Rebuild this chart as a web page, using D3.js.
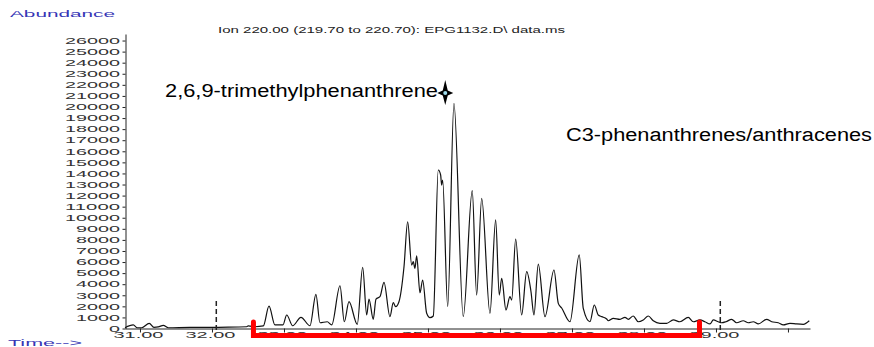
<!DOCTYPE html>
<html lang="en">
<head>
<meta charset="UTF-8">
<title>Ion 220.00 chromatogram</title>
<script src="https://d3js.org/d3.v7.min.js"></script>
<style>
  body { margin: 0; background: #fff; }
  svg { display: block; }
</style>
</head>
<body>
<div id="chart"></div>
<script>
// retention time (min) and abundance
const time = [
  30.792, 30.907, 30.963, 31.024, 31.129, 31.194, 31.254, 31.324, 31.393, 31.694,
  32.014, 32.088, 32.482, 32.504, 32.597, 32.713, 32.792, 32.875, 32.986, 33.038,
  33.121, 33.236, 33.361, 33.444, 33.500, 33.601, 33.663, 33.778, 33.838, 33.903,
  34.018, 34.093, 34.149, 34.181, 34.240, 34.278, 34.333, 34.389, 34.472, 34.518,
  34.551, 34.597, 34.667, 34.718, 34.774, 34.796, 34.819, 34.843, 34.889, 34.926,
  34.982, 35.028, 35.074, 35.143, 35.176, 35.190, 35.204, 35.274, 35.361, 35.490,
  35.615, 35.676, 35.746, 35.861, 35.940, 35.990, 36.024, 36.083, 36.139, 36.163,
  36.218, 36.301, 36.371, 36.431, 36.472, 36.532, 36.625, 36.750, 36.810, 36.857,
  36.972, 37.101, 37.157, 37.250, 37.310, 37.365, 37.413, 37.482, 37.504, 37.574,
  37.667, 37.736, 37.782, 37.851, 37.921, 37.990, 38.060, 38.129, 38.222, 38.315,
  38.407, 38.500, 38.615, 38.685, 38.778, 38.847, 38.917, 38.963, 39.032, 39.079,
  39.139, 39.218, 39.287, 39.379, 39.449, 39.518, 39.588, 39.704, 39.774, 39.865,
  39.935, 40.028, 40.121, 40.213, 40.296
];
const abundance = [
  70, 320, 70, 70, 470, 110, 140, 290, 70, 100,
  100, 110, 160, 230, 160, 230, 2020, 320, 320, 1220,
  250, 1010, 250, 3090, 520, 610, 320, 3860, 610, 2420,
  380, 5530, 1220, 2660, 830, 2660, 2870, 4170, 1070, 2330,
  1970, 2420, 5580, 9640, 5730, 6030, 5430, 6550, 3230, 4380,
  1370, 980, 1130, 14310, 13860, 12950, 13410, 1970, 20330, 1070,
  12440, 3020, 11750, 1370, 9800, 3020, 4530, 1670, 2870, 2570,
  8080, 1220, 5130, 3320, 1220, 5820, 1070, 5280, 2270, 1850,
  610, 6640, 1820, 610, 2120, 1220, 1070, 860, 700, 920,
  830, 1010, 830, 1130, 610, 770, 1130, 700, 470, 470,
  770, 610, 1010, 610, 770, 610, 410, 770, 610, 520,
  610, 830, 520, 700, 520, 610, 410, 830, 610, 520,
  320, 470, 410, 380, 700
];

const xTickValues = [31, 32, 33, 34, 35, 36, 37, 38, 39, 40];
const xLabelValues = [31, 32, 33, 34, 35, 36, 37, 38, 39]; // 40.00 has a tick but no label
const yTickValues = [0, 1000, 2000, 3000, 4000, 5000, 6000, 7000, 8000, 9000, 10000,
  11000, 12000, 13000, 14000, 15000, 16000, 17000, 18000, 19000, 20000,
  21000, 22000, 23000, 24000, 25000, 26000];
const dashedMarks = [32.06, 39.06];
const bracketRange = [32.576, 38.771];
const starTime = 35.24, starAbundance = 21260;

const titleText = "Ion 220.00 (219.70 to 220.70): EPG1132.D\\ data.ms";
const peakLabel = "2,6,9-trimethylphenanthrene";
const groupLabel = "C3-phenanthrenes/anthracenes";

const width = 874, height = 347;
const axisFont = '"Liberation Sans", Arial, sans-serif';

const svg = d3.select("#chart").append("svg")
    .attr("width", width)
    .attr("height", height);

const x = d3.scaleLinear().domain([30.792, 40.306]).range([125, 810]);
const y = d3.scaleLinear().domain([0, 26590]).range([328.5, 34]);

// y axis
const yAxis = svg.append("g")
    .attr("transform", "translate(125.5,0)")
    .call(d3.axisLeft(y).tickValues(yTickValues).tickSize(3).tickSizeOuter(0).tickPadding(2.5)
      .tickFormat(d3.format("d")));
yAxis.select(".domain").attr("stroke", "#222");
yAxis.selectAll(".tick line").attr("stroke", "#222");
yAxis.selectAll("text")
    .attr("font-family", axisFont)
    .attr("font-size", 8.5)
    .attr("fill", "#333")
    .attr("textLength", d => String(d).length * 11)
    .attr("lengthAdjust", "spacingAndGlyphs");

// x axis
const xAxis = svg.append("g")
    .attr("transform", "translate(0,328.5)")
    .call(d3.axisBottom(x).tickValues(xTickValues).tickSize(4).tickSizeOuter(0)
      .tickFormat(d => xLabelValues.includes(d) ? d3.format(".2f")(d) : ""));
xAxis.select(".domain").attr("stroke", "#222");
xAxis.selectAll(".tick line").attr("stroke", "#222");
xAxis.selectAll("text")
    .attr("font-family", axisFont)
    .attr("font-size", 8.5)
    .attr("fill", "#333")
    .attr("y", 9)
    .attr("dy", 0)
    .attr("x", -2)
    .attr("textLength", d => xLabelValues.includes(d) ? 50 : null)
    .attr("lengthAdjust", "spacingAndGlyphs");

// the trace
const line = d3.line()
    .x((d, i) => x(time[i]))
    .y(d => y(d))
    .curve(d3.curveMonotoneX);

svg.append("path")
    .attr("d", line(abundance))
    .attr("fill", "none")
    .attr("stroke", "#111")
    .attr("stroke-width", 1.2);

// integration markers
svg.selectAll(".mark")
    .data(dashedMarks)
    .join("line")
    .attr("class", "mark")
    .attr("x1", d => x(d)).attr("x2", d => x(d))
    .attr("y1", 301).attr("y2", 330)
    .attr("stroke", "#222")
    .attr("stroke-width", 1.5)
    .attr("stroke-dasharray", "5,3");

// red bracket under the C3 envelope
const bx0 = x(bracketRange[0]), bx1 = x(bracketRange[1]);
svg.append("path")
    .attr("d", `M${bx0},322 L${bx0},335.5 L${bx1},335.5 L${bx1},322`)
    .attr("fill", "none")
    .attr("stroke", "#ff0000")
    .attr("stroke-width", 5)
    .attr("stroke-linecap", "round")
    .attr("stroke-linejoin", "miter");

// star marker
const sx = x(starTime), sy = y(starAbundance);
svg.append("path")
    .attr("d", `M${sx},${sy - 13} L${sx + 2.5},${sy - 2.5} L${sx + 8},${sy} L${sx + 2.5},${sy + 2.5} L${sx},${sy + 12} L${sx - 2.5},${sy + 2.5} L${sx - 8},${sy} L${sx - 2.5},${sy - 2.5} Z`)
    .attr("fill", "#000");
svg.append("circle")
    .attr("cx", sx).attr("cy", sy).attr("r", 2)
    .attr("fill", "#9fdcec");

// texts
svg.append("text")
    .attr("x", 10).attr("y", 17)
    .attr("font-family", axisFont).attr("font-size", 8.5)
    .attr("fill", "#3535b5")
    .attr("textLength", 105).attr("lengthAdjust", "spacingAndGlyphs")
    .text("Abundance");

svg.append("text")
    .attr("x", 8).attr("y", 346)
    .attr("font-family", axisFont).attr("font-size", 8.5)
    .attr("fill", "#3535b5")
    .attr("textLength", 74).attr("lengthAdjust", "spacingAndGlyphs")
    .text("Time-->");

svg.append("text")
    .attr("x", 218).attr("y", 33)
    .attr("font-family", axisFont).attr("font-size", 8.5)
    .attr("fill", "#222")
    .attr("textLength", 347).attr("lengthAdjust", "spacingAndGlyphs")
    .text(titleText);

svg.append("text")
    .attr("x", 165).attr("y", 97)
    .attr("font-family", axisFont).attr("font-size", 18)
    .attr("fill", "#000")
    .attr("textLength", 273).attr("lengthAdjust", "spacingAndGlyphs")
    .text(peakLabel);

svg.append("text")
    .attr("x", 566).attr("y", 141)
    .attr("font-family", axisFont).attr("font-size", 18)
    .attr("fill", "#000")
    .attr("textLength", 306).attr("lengthAdjust", "spacingAndGlyphs")
    .text(groupLabel);
</script>
</body>
</html>
